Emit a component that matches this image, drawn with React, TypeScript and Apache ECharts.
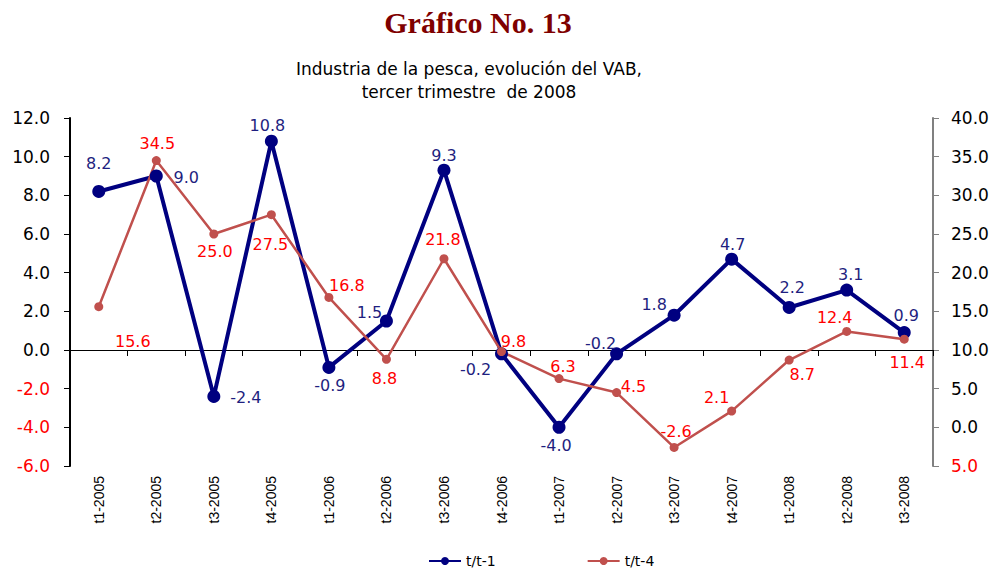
import React, { useEffect, useRef } from "react";
import * as echarts from "echarts";

const categories = ["t1-2005","t2-2005","t3-2005","t4-2005","t1-2006","t2-2006","t3-2006","t4-2006","t1-2007","t2-2007","t3-2007","t4-2007","t1-2008","t2-2008","t3-2008"];
const serieT1 = [8.2, 9.0, -2.4, 10.8, -0.9, 1.5, 9.3, -0.2, -4.0, -0.2, 1.8, 4.7, 2.2, 3.1, 0.9];
const serieT4 = [15.6, 34.5, 25.0, 27.5, 16.8, 8.8, 21.8, 9.8, 6.3, 4.5, -2.6, 2.1, 8.7, 12.4, 11.4];
const offsetsT1 = [[0,-28],[30,1],[32,1],[-4,-16],[1,18],[-17,-9],[0,-15],[-26,16],[-3,18],[-16,-10],[-20,-11],[1,-15],[3,-20],[4,-16],[2,-17]];
const offsetsT4 = [[34,35],[1,-17],[1,17],[-1,30],[18,-12],[-2,19],[-1,-19],[12,-10],[4,-12],[17,-6],[2,-16],[-15,-14],[13,14],[-12,-14],[3,23]];
const titleText = "Gráfico No. 13";
const subtitleText = "Industria de la pesca, evolución del VAB,\ntercer trimestre  de 2008";

export default function App() {
  const ref = useRef<HTMLDivElement>(null);
  useEffect(() => {
    if (!ref.current) return;
    const chart = echarts.init(ref.current, null, { renderer: "svg" });
    const font = "'Liberation Sans', Arial, sans-serif";
    const wide = "'DejaVu Sans', Verdana, sans-serif";
    const mk = (vals: number[], offs: number[][], color: string) =>
      vals.map((v, i) => ({
        value: v,
        label: { show: true, position: "inside", offset: offs[i], color, fontSize: 16, fontFamily: wide, formatter: (p: any) => Number(p.value).toFixed(1) },
      }));
    chart.setOption({
      animation: false,
      backgroundColor: "#ffffff",
      title: [
        { text: titleText, left: 473, top: 2, textAlign: "center", textStyle: { fontFamily: "'Liberation Serif', 'Times New Roman', serif", fontWeight: "bold", fontSize: 30, color: "#7F0000" } },
        { text: subtitleText, left: 464, top: 52, textAlign: "center", textStyle: { fontFamily: wide, fontWeight: "normal", fontSize: 17, color: "#000", lineHeight: 23 } },
      ],
      legend: {
        left: 423, top: 549, itemWidth: 32, itemHeight: 10, itemGap: 91,
        textStyle: { fontFamily: wide, fontSize: 14, color: "#000" },
        data: ["t/t-1", "t/t-4"],
      },
      grid: { left: 70, right: 62, top: 118, bottom: 105, containLabel: false },
      xAxis: [
        {
          type: "category", data: categories, position: "bottom",
          axisLine: { show: false, onZero: false }, axisTick: { show: false },
          axisLabel: { rotate: 90, margin: 10, fontSize: 14, color: "#000", fontFamily: font, interval: 0 },
        },
        {
          type: "category", data: categories, position: "bottom",
          axisLine: { show: true, onZero: true, onZeroAxisIndex: 0, lineStyle: { color: "#000", width: 1 } },
          axisTick: { show: true, length: 6, lineStyle: { color: "#000" } },
          axisLabel: { show: false },
        },
      ],
      yAxis: [
        {
          type: "value", min: -6, max: 12, interval: 2, position: "left",
          axisLine: { show: true, onZero: false, lineStyle: { color: "#000", width: 2 } },
          axisTick: { show: true, length: 6, lineStyle: { color: "#000" } },
          splitLine: { show: false },
          axisLabel: { margin: 20, fontSize: 17, fontFamily: wide, formatter: (v: number) => v.toFixed(1), color: (v: any) => (Number(v) < 0 ? "#FF0000" : "#000") },
        },
        {
          type: "value", min: -5, max: 40, interval: 5, position: "right",
          axisLine: { show: true, onZero: false, lineStyle: { color: "#808080", width: 2 } },
          axisTick: { show: true, length: 6, lineStyle: { color: "#808080" } },
          splitLine: { show: false },
          axisLabel: { margin: 18, fontSize: 17, fontFamily: wide, formatter: (v: number) => Math.abs(v).toFixed(1), color: (v: any) => (Number(v) < 0 ? "#FF0000" : "#000") },
        },
      ],
      series: [
        {
          name: "t/t-1", type: "line", xAxisIndex: 0, yAxisIndex: 0,
          data: mk(serieT1, offsetsT1, "#1F1F80"),
          symbol: "circle", symbolSize: 13,
          lineStyle: { color: "#000080", width: 4 },
          itemStyle: { color: "#000080" },
        },
        {
          name: "t/t-4", type: "line", xAxisIndex: 0, yAxisIndex: 1,
          data: mk(serieT4, offsetsT4, "#FF0000"),
          symbol: "circle", symbolSize: 9,
          lineStyle: { color: "#C0504D", width: 2.5 },
          itemStyle: { color: "#C0504D" },
        },
      ],
    });
    return () => chart.dispose();
  }, []);
  return <div ref={ref} style={{ position: "fixed", left: 0, top: 0, width: 995, height: 571 }} />;
}
